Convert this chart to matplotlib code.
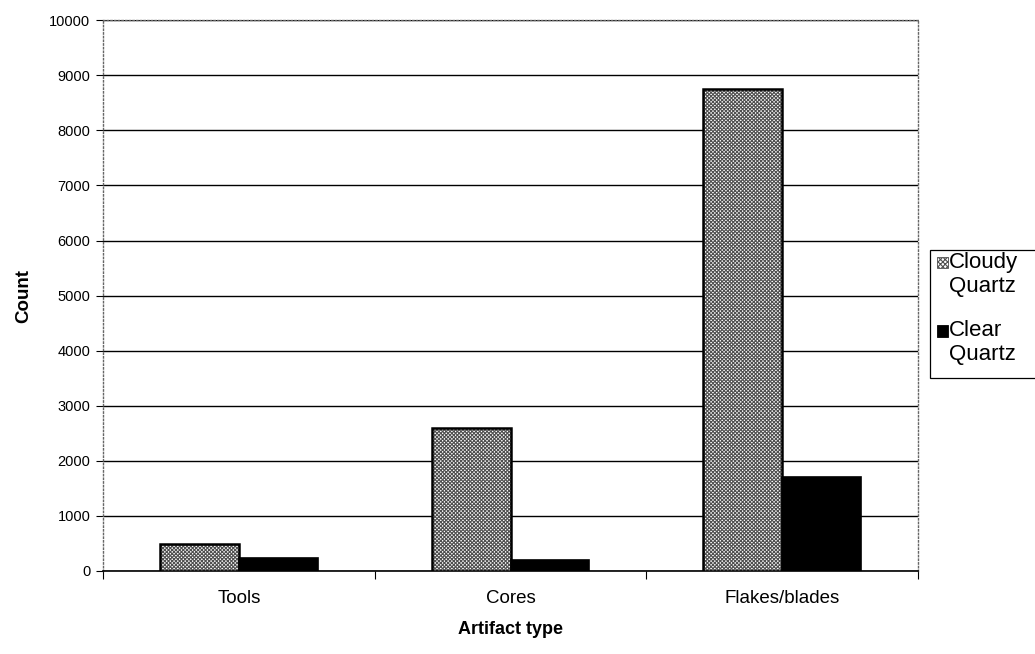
import matplotlib
matplotlib.use('Agg')
from matplotlib import pyplot
from matplotlib.patches import Rectangle
import numpy

pyplot.rcParams['font.family'] = ['Liberation Sans', 'DejaVu Sans']
pyplot.rcParams['hatch.linewidth'] = 0.8

# данные
categories = ['Tools', 'Cores', 'Flakes/blades']
cloudy = [490, 2590, 8750]
clear = [230, 200, 1700]
series_names = ['Cloudy\nQuartz', 'Clear\nQuartz']
y_ticks = list(range(0, 10001, 1000))

fig = pyplot.figure(figsize=(10.35, 6.54), dpi=100)
ax = fig.add_axes([0.0995, 0.127, 0.7875, 0.842])

x = numpy.arange(len(categories))
w = 0.29
HATCH = 'xxxxxxxxx'

# облачный кварц - штриховка, затем контур
ax.bar(x - w / 2, cloudy, width=w, color='white', hatch=HATCH,
       edgecolor='#505050', linewidth=0, zorder=3)
ax.bar(x - w / 2, cloudy, width=w, fill=False, edgecolor='black',
       linewidth=1.8, zorder=4)
ax.bar(x + w / 2, clear, width=w, color='black', edgecolor='black',
       linewidth=1.2, zorder=3)

# легенда вручную (рамка выходит за правый край)
fig.patches.append(Rectangle((930 / 1035, 1 - 378 / 654), 0.2, 128 / 654,
                             transform=fig.transFigure, facecolor='white',
                             edgecolor='black', linewidth=0.9))
fig.patches.append(Rectangle((937 / 1035, 1 - 268 / 654), 11 / 1035, 11 / 654,
                             transform=fig.transFigure, facecolor='white',
                             hatch='xxxxxxx', edgecolor='#505050', linewidth=0.6))
fig.patches.append(Rectangle((937 / 1035, 1 - 337 / 654), 11 / 1035, 12 / 654,
                             transform=fig.transFigure, facecolor='black',
                             edgecolor='black', linewidth=0.6))
fig.text(949 / 1035, 1 - 252 / 654, series_names[0], fontsize=16,
         va='top', ha='left', linespacing=1.2)
fig.text(949 / 1035, 1 - 320 / 654, series_names[1], fontsize=16,
         va='top', ha='left', linespacing=1.2)

ax.set_xlim(-0.5, 2.5)
ax.set_ylim(0, 10000)
ax.set_yticks(y_ticks)
ax.set_yticklabels([str(v) for v in y_ticks], fontsize=10.5)
ax.set_xticks(x)
ax.set_xticklabels(categories, fontsize=13.5)
ax.tick_params(axis='x', length=0, pad=14)
ax.set_xticks([-0.5, 0.5, 1.5, 2.5], minor=True)
ax.tick_params(axis='x', which='minor', length=6, width=0.8)
ax.tick_params(axis='y', length=5, width=0.8, direction='out', pad=4)

# сетка
ax.grid(axis='y', color='black', linewidth=1.0, zorder=1)
ax.set_axisbelow(True)

for s in ['top', 'right', 'left']:
    ax.spines[s].set_color('#666666')
    ax.spines[s].set_linestyle(':')
    ax.spines[s].set_linewidth(1.0)
ax.spines['bottom'].set_color('black')
ax.spines['bottom'].set_linewidth(1.2)

ax.set_ylabel('Count', fontsize=13.5, fontweight='bold', labelpad=12)
ax.set_xlabel('Artifact type', fontsize=13, fontweight='bold', labelpad=10)

fig.savefig('out.png')
